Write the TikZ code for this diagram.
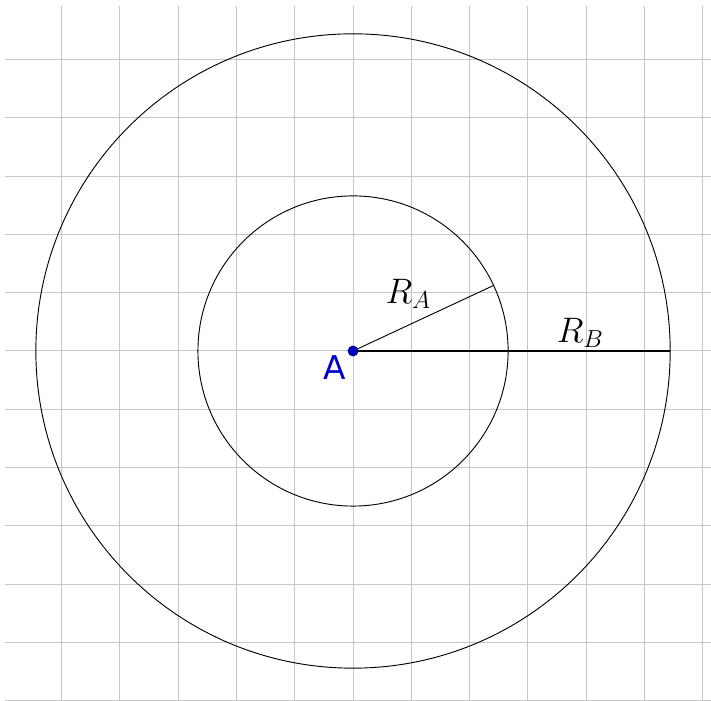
\documentclass[tikz,border=0pt]{standalone}
\usepackage{fontspec}
\newfontfamily\etiqfont{DejaVu Sans}
\usetikzlibrary{positioning, calc}

\begin{document}
\begin{tikzpicture}[
		% Estilos
		rejilla/.style = {draw=black!22, line width=0.5pt},
		circulo/.style = {draw=black, line width=0.45pt},
		radio/.style = {draw=black, line width=0.45pt},
		punto/.style = {circle, fill=blue!75!black, draw=blue!60!black, inner sep=0pt, minimum size=0.17cm},
		etiqueta/.style = {font=\fontsize{17}{19}\selectfont},
		]
		
		% --- MARCO ---
		\useasboundingbox (-6.055,-6.003) rectangle (6.14,6.02);
		
		% --- REJILLA ---
		\draw [rejilla] (-5.97,-6.003) grid (6.14,5.92);
		
		% --- CIRCULOS ---
		\coordinate (A) at (0,0);
		\draw [circulo] (A) circle (2.66);
		\draw [circulo] (A) circle (5.44);
		
		% --- RADIOS ---
		\coordinate (ra_fin) at (25:2.66);
		\coordinate (rb_fin) at (0:5.44);
		\draw [radio] (A) -- (ra_fin);
		\draw [radio, line width=0.6pt] (A) -- (rb_fin);
		
		% Etiquetas de los radios
		\node [etiqueta] (ra_lbl) at (0.95,0.98) {$R_A$};
		\node [etiqueta] (rb_lbl) at (3.9,0.31) {$R_B$};
		
		% Centro A
		\node [punto] (centro) at (A) {};
		\node [font=\fontsize{16}{18}\selectfont\etiqfont, text=blue!80!black, inner sep=0pt] (a_lbl) at (-0.31,-0.28) {A};
		
	\end{tikzpicture}
\end{document}
